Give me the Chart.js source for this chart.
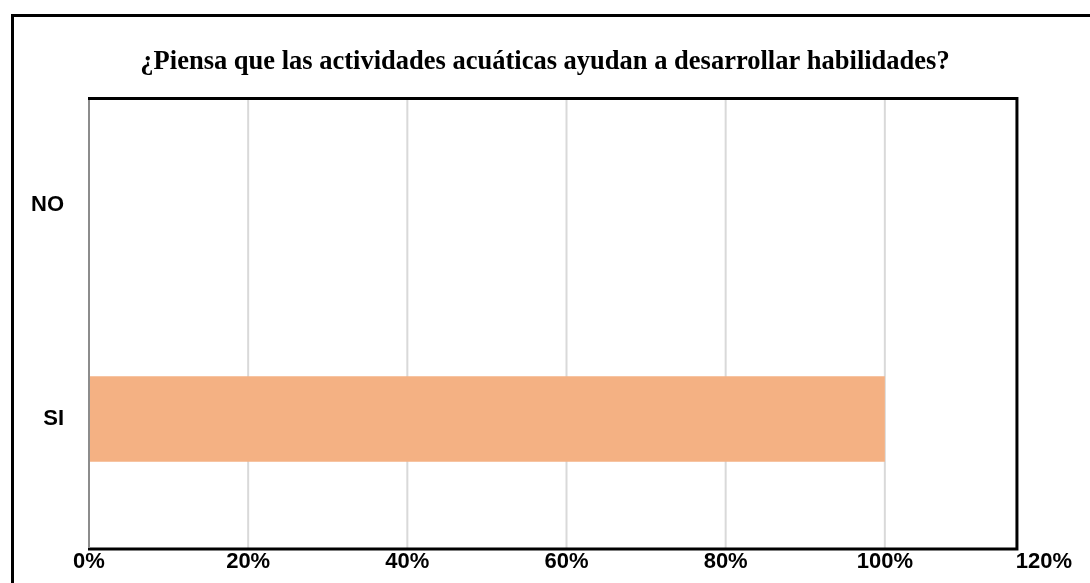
<!DOCTYPE html>
<html>
<head>
<meta charset="utf-8">
<script src="https://cdn.jsdelivr.net/npm/chart.js@4.4.1/dist/chart.umd.min.js"></script>
<style>
  html, body { margin: 0; padding: 0; background: #fff; }
  #wrap { width: 1090px; height: 583px; }
</style>
</head>
<body>
<div id="wrap"><canvas id="encuesta"></canvas></div>
<script>
/* datos */
var categorias = ['NO', 'SI'];
var porcentajes = [0, 100];
var ticksEje = [0, 20, 40, 60, 80, 100, 120];
var titulo = '¿Piensa que las actividades acuáticas ayudan a desarrollar habilidades?';

/* rejilla recortada al marco del area de trazado */
var rejilla = {
    id: 'rejilla',
    beforeDatasetsDraw: function (chart) {
        var c = chart.ctx, a = chart.chartArea, x = chart.scales.x;
        var r = x.getPixelForValue(116.6);
        var b = a.bottom + 23;
        c.save();
        c.strokeStyle = '#d9d9d9';
        c.lineWidth = 2;
        x.ticks.forEach(function (t) {
            var px = x.getPixelForValue(t.value);
            if (px <= a.left + 2 || px >= r - 2) return;
            c.beginPath();
            c.moveTo(px, a.top);
            c.lineTo(px, b);
            c.stroke();
        });
        c.restore();
    }
};

/* marco exterior y marco del area de trazado */
var marcos = {
    id: 'marcos',
    afterDraw: function (chart) {
        var c = chart.ctx, a = chart.chartArea;
        c.save();
        c.strokeStyle = '#000';
        c.lineWidth = 3;
        // marco exterior (cortado a la derecha y abajo)
        c.beginPath();
        c.moveTo(12.5, 583);
        c.lineTo(12.5, 15.5);
        c.lineTo(1090, 15.5);
        c.stroke();
        // marco del area
        var r = chart.scales.x.getPixelForValue(116.6);
        var b = a.bottom + 23;
        c.beginPath();
        c.moveTo(a.left - 1, a.top + 0.5);
        c.lineTo(r, a.top + 0.5);
        c.lineTo(r, b);
        c.lineTo(a.left - 1, b);
        c.stroke();
        // eje vertical gris
        c.strokeStyle = '#8c8c8c';
        c.lineWidth = 2;
        c.beginPath();
        c.moveTo(a.left, a.top + 2);
        c.lineTo(a.left, b - 1);
        c.stroke();
        c.restore();
    }
};

var ctx = document.getElementById('encuesta').getContext('2d');
var myChart = new Chart(ctx, {
    type: 'bar',
    data: {
        labels: categorias,
        datasets: [{
            label: 'Respuestas',
            data: porcentajes,
            backgroundColor: '#f4b183',
            barPercentage: 0.4,
            categoryPercentage: 1
        }]
    },
    options: {
        indexAxis: 'y',
        responsive: true,
        maintainAspectRatio: false,
        devicePixelRatio: 1,
        animation: false,
        layout: { padding: 0 },
        plugins: {
            legend: { display: false },
            tooltip: { enabled: false },
            title: {
                display: true,
                text: titulo,
                color: '#000',
                font: { family: 'Liberation Serif', size: 26.5, weight: 'bold' },
                padding: { top: 46, bottom: 20.2 }
            }
        },
        scales: {
            x: {
                min: 0,
                max: 120,
                afterBuildTicks: function (axis) {
                    axis.ticks = ticksEje.map(function (v) { return { value: v }; });
                },
                afterFit: function (axis) {
                    axis.height = 57;
                    axis.paddingLeft = 0;
                    axis.paddingRight = 46;
                },
                grid: { display: false, drawTicks: false },
                border: { display: false },
                ticks: {
                    padding: 23,
                    color: '#000',
                    font: { family: 'Liberation Sans', size: 22, weight: 'bold' },
                    callback: function (v) { return v + '%'; }
                }
            },
            y: {
                afterFit: function (axis) { axis.width = 89; },
                grid: { display: false, drawTicks: false },
                border: { display: false },
                ticks: {
                    padding: 25,
                    color: '#000',
                    font: { family: 'Liberation Sans', size: 22, weight: 'bold' }
                }
            }
        }
    },
    plugins: [rejilla, marcos]
});
</script>
</body>
</html>
